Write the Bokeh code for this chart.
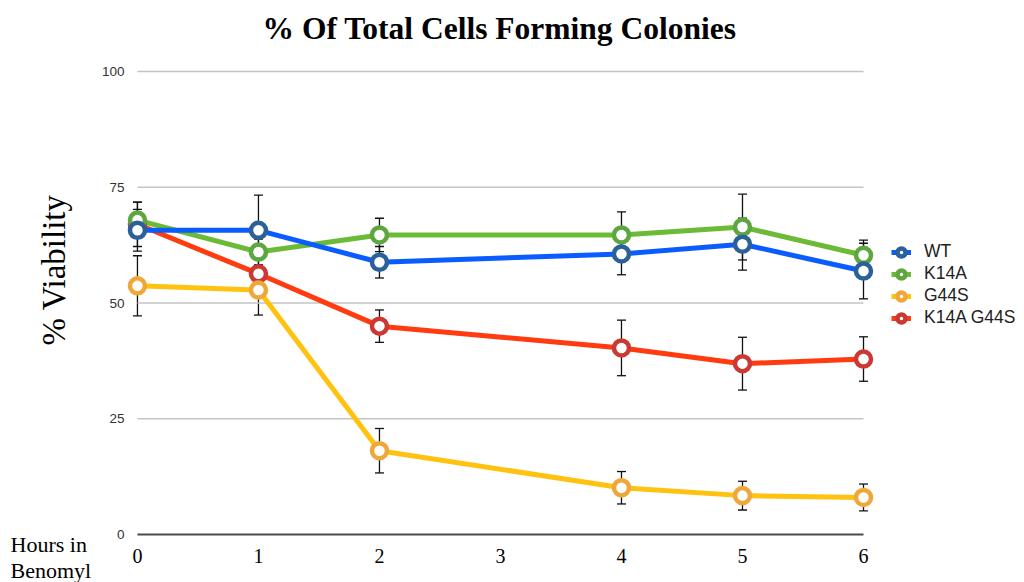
from bokeh.plotting import figure
from bokeh.models import (Range1d, Whisker, ColumnDataSource, Legend, LegendItem,
                          Title, TeeHead, FixedTicker)
from bokeh.embed import file_html
from bokeh.resources import INLINE

# ---- data ----
hours = [0, 1, 2, 4, 5, 6]
x_ticks = [0, 1, 2, 3, 4, 5, 6]
y_ticks = [0, 25, 50, 75, 100]

wt = [65.7, 65.7, 58.8, 60.6, 62.7, 56.9]
wt_err = [4.5, 7.6, 3.4, 4.5, 5.6, 6.0]
k14a = [67.9, 61.0, 64.7, 64.7, 66.4, 60.3]
k14a_err = [3.9, 2.8, 3.6, 5.0, 7.1, 3.3]
g44s = [53.7, 52.8, 18.1, 10.1, 8.4, 8.0]
g44s_err = [6.5, 5.4, 4.8, 3.5, 3.1, 2.9]
dbl = [67.0, 56.3, 45.0, 40.3, 36.9, 37.9]
dbl_err = [4.8, 1.7, 3.5, 6.0, 5.7, 4.8]

series = [
    ("WT", wt, wt_err, "#0b5cff", "#2b6199"),
    ("K14A", k14a, k14a_err, "#6cbb36", "#5ea63f"),
    ("G44S", g44s, g44s_err, "#ffc20e", "#f0a73a"),
    ("K14A G44S", dbl, dbl_err, "#ff3b0f", "#cc3833"),
]

SERIF = "Liberation Serif"
SANS = "Liberation Sans"

# frame spans the plot area plus room on the right for the legend
p = figure(width=1022, height=582, output_backend="svg", toolbar_location=None,
           x_range=Range1d(-0.107, 7.314), y_range=Range1d(-0.86, 104.1),
           min_border_left=124, min_border_right=0, min_border_top=52,
           min_border_bottom=44)

p.title.text = "% Of Total Cells Forming Colonies"
p.title.text_font = SERIF
p.title.text_font_size = "31.5px"
p.title.text_font_style = "bold"
p.title.align = "left"
p.title.offset = 138
p.title.text_color = "#000000"
p.title.standoff = 14

p.grid.visible = False
p.outline_line_color = None

p.xaxis.ticker = FixedTicker(ticks=x_ticks)
p.yaxis.ticker = FixedTicker(ticks=y_ticks)
for ax in (p.xaxis[0], p.yaxis[0]):
    ax.axis_line_color = None
    ax.major_tick_line_color = None
    ax.minor_tick_line_color = None
p.xaxis.major_label_text_font = SERIF
p.xaxis.major_label_text_font_size = "20px"
p.xaxis.major_label_text_color = "#000000"
p.xaxis.major_label_standoff = 4
p.yaxis.major_tick_out = 0
p.yaxis.major_label_text_font = SANS
p.yaxis.major_label_text_font_size = "13.5px"
p.yaxis.major_label_text_color = "#333333"
p.yaxis.major_label_standoff = 0

# y axis title
ytitle = Title(text="% Viability", align="left", offset=193, standoff=54,
               text_font=SERIF, text_font_size="33px", text_font_style="normal",
               text_color="#000000")
p.add_layout(ytitle, "left")

# corner text under the y axis
hours_title = Title(text="Hours in\nBenomyl", align="left", vertical_align="top",
                    offset=-114, standoff=-68, text_font=SERIF,
                    text_font_size="22px", text_font_style="normal",
                    text_line_height=1.05, text_color="#000000")
p.add_layout(hours_title, "below")

# gridlines spanning the data hours
xmin, xmax = hours[0], hours[-1]
grid_y = [t for t in y_ticks if t != 0]
p.segment(x0=[xmin] * len(grid_y), x1=[xmax] * len(grid_y), y0=grid_y, y1=grid_y,
          line_color="#c4c4c4", line_width=1.5)
p.segment(x0=[xmin], x1=[xmax], y0=[y_ticks[0]], y1=[y_ticks[0]],
          line_color="#4a4a4a", line_width=2)

items = {}
rend = {}
for name, ys, errs, lc, mc in reversed(series):
    src = ColumnDataSource(dict(x=hours, y=ys,
                                lo=[a - b for a, b in zip(ys, errs)],
                                hi=[a + b for a, b in zip(ys, errs)]))
    l = p.line("x", "y", source=src, line_color=lc, line_width=5)
    rend[name] = (l, src)

for name, ys, errs, lc, mc in reversed(series):
    l, src = rend[name]
    s = p.scatter("x", "y", source=src, size=15, fill_color="white",
                  line_color=mc, line_width=4.5)
    items[name] = [l, s]
    w = Whisker(source=src, base="x", upper="hi", lower="lo",
                line_color="#111111", line_width=1.3,
                upper_head=TeeHead(size=9, line_color="#111111", line_width=1.3),
                lower_head=TeeHead(size=9, line_color="#111111", line_width=1.3))
    p.add_layout(w)

legend = Legend(items=[LegendItem(label=n, renderers=items[n]) for n, *_ in series],
                location=(767, 210), border_line_color=None,
                background_fill_alpha=0, padding=10, spacing=1,
                label_text_font=SANS, label_text_font_size="17.5px",
                label_text_color="#222222", glyph_width=20, label_standoff=13)
p.add_layout(legend, "center")

open("out.html", "w").write(file_html(p, INLINE))
